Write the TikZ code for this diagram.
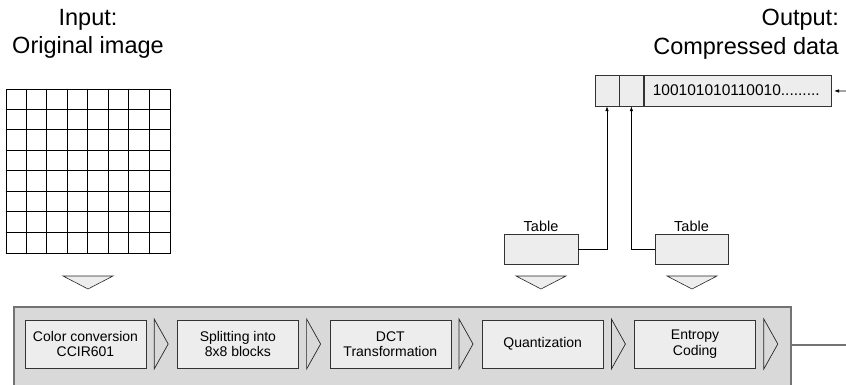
\documentclass[tikz,border=0pt]{standalone}
\usepackage{fontspec}
\setmainfont{Liberation Sans}
\usetikzlibrary{positioning,calc,arrows.meta}

\begin{document}
\begin{tikzpicture}[
	%	style def
	x=1pt, y=-1pt,
	stage/.style={draw=black!80, fill=black!7, minimum width=121pt, minimum height=48pt, inner sep=0pt, align=center, font=\fontsize{14}{15.5}\selectfont},
	tablebox/.style={draw=black!80, fill=black!7, minimum height=30pt, inner sep=0pt, label={[font=\fontsize{14.5}{16}\selectfont, inner sep=1.5pt]above:Table}},
	cell/.style={draw=black!80, fill=black!7, minimum height=31pt, inner sep=0pt},
	chevron/.style={draw=black!85, line width=0.7pt},
	funnel/.style={draw=black!85, fill=black!7, line width=0.6pt},
	feed/.style={-{Latex[length=5pt,width=3.5pt]}, line width=0.7pt},
	title/.style={font=\fontsize{23.5}{28.5}\selectfont, inner sep=0pt}
	]
	\useasboundingbox (0,0) rectangle (846,384);

	% titles
	\node[title, align=center, anchor=north] (intitle) at (88,9) {Input:\\Original image};
	\node[title, align=right, anchor=north east] (outtitle) at (839,9) {Output:\\Compressed data};

	% 8x8 pixel grid
	\node[draw, line width=0.8pt, minimum size=164pt, inner sep=0pt] (img) at (88,171) {};
	\foreach \k in {1,...,7} {
		\draw[line width=0.8pt] ($(img.north west)+(20.5*\k,0)$) -- ($(img.south west)+(20.5*\k,0)$);
		\draw[line width=0.8pt] ($(img.north west)+(0,20.5*\k)$) -- ($(img.north east)+(0,20.5*\k)$);
	}

	% processing chain
	\node[draw=black!55, fill=black!15, line width=1.5pt, minimum width=777pt, minimum height=86pt, inner sep=0pt, anchor=north west] (chain) at (13,306) {};
	\node[stage] (s1) at (85.5,344) {Color conversion\\CCIR601};
	\node[stage, right=31pt of s1] (s2) {Splitting into\\8x8 blocks};
	\node[stage, right=31pt of s2] (s3) {DCT\\Transformation};
	\node[stage, right=31pt of s3] (s4) {Quantization};
	\node[stage, right=31pt of s4] (s5) {Entropy\\Coding};
	\foreach \s in {1,...,5}
		\draw[chevron] ([shift={(8pt,25pt)}]s\s.east) -- ([xshift=22pt]s\s.east) -- ([shift={(8pt,-25pt)}]s\s.east) -- cycle;

	% output of the chain
	\coordinate (out) at (846,345);
	\draw[black!55, line width=1.5pt] (chain.east |- out) -- (out);

	% tables
	\node[tablebox, minimum width=74pt] (t1) at (541,249) {};
	\node[tablebox, minimum width=73pt] (t2) at (691.5,249) {};

	% funnels into the chain
	\foreach \cx in {88,541,692}
		\draw[funnel] (\cx-25,276) -- (\cx+25,276) -- (\cx,289) -- cycle;

	% compressed stream
	\node[cell, minimum width=24pt] (c1) at (607,90.5) {};
	\node[cell, minimum width=24pt, right=0pt of c1] (c2) {};
	\node[cell, right=0pt of c2, text width=169pt, inner xsep=9pt, align=left, font=\fontsize{15.5}{17}\selectfont] (bits) {100101010110010.........};

	\coordinate (feed in) at (846,91);
	\draw[feed, shorten >=3pt] (feed in) -- (bits);
	\draw[feed] (t1.east) -| (c1.south);
	\draw[feed] (t2.west) -| (c2.south);
\end{tikzpicture}
\end{document}
